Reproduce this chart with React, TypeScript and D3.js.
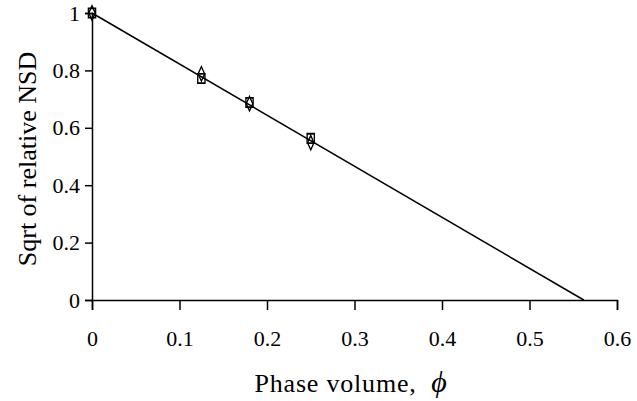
import React, { useEffect, useRef } from "react";
import * as d3 from "d3";

// phase volume vs sqrt of relative NSD
const squareX = [0, 0.125, 0.18, 0.25];
const squareY = [1.0, 0.772, 0.688, 0.563];
const diamondX = [0, 0.125, 0.18, 0.25];
const diamondY = [1.0, 0.788, 0.684, 0.548];
const fitX = [0, 0.562];
const fitY = [1, 0];
const xTicks = [0, 0.1, 0.2, 0.3, 0.4, 0.5, 0.6];
const yTicks = [0, 0.2, 0.4, 0.6, 0.8, 1];

const W = 637;
const H = 401;
const FONT = "'Liberation Serif', serif";

export default function App() {
  const ref = useRef<SVGSVGElement>(null);

  useEffect(() => {
    const svg = d3.select(ref.current);
    svg.selectAll("*").remove();

    const x = d3.scaleLinear().domain([0, 0.6]).range([92, 617]);
    const y = d3.scaleLinear().domain([0, 1]).range([300, 13]);

    const g = svg.append("g");

    // x axis
    const xAxis = d3.axisBottom(x).tickValues(xTicks).tickSize(10).tickFormat(d3.format("")).tickPadding(20);
    const xg = g.append("g").attr("transform", `translate(0,${y(0)})`).call(xAxis);
    xg.select(".domain").attr("stroke", "#000").attr("stroke-width", 1.5);
    xg.selectAll(".tick line").attr("stroke", "#000").attr("stroke-width", 1.5);
    xg.selectAll("text").attr("font-family", FONT).attr("font-size", 22).attr("fill", "#000");

    // y axis
    const yAxis = d3.axisLeft(y).tickValues(yTicks).tickSize(7).tickFormat(d3.format("")).tickPadding(5);
    const yg = g.append("g").attr("transform", `translate(${x(0)},0)`).call(yAxis);
    yg.select(".domain").attr("stroke", "#000").attr("stroke-width", 1.5);
    yg.selectAll(".tick line").attr("stroke", "#000").attr("stroke-width", 1.5);
    yg.selectAll("text").attr("font-family", FONT).attr("font-size", 22).attr("fill", "#000");

    // fit line
    const line = d3.line<number>().x((_, i) => x(fitX[i])).y((d) => y(d));
    g.append("path").attr("d", line(fitY)).attr("fill", "none").attr("stroke", "#000").attr("stroke-width", 1.5);

    // markers
    const diamond = d3.symbol().type(d3.symbolDiamond).size(50);
    g.selectAll(".dia")
      .data(diamondY)
      .enter()
      .append("path")
      .attr("d", diamond)
      .attr("transform", (d, i) => `translate(${x(diamondX[i])},${y(d)}) scale(0.85,1.1)`)
      .attr("fill", "none")
      .attr("stroke", "#000")
      .attr("stroke-width", 1.5);

    const square = d3.symbol().type(d3.symbolSquare).size(72);
    g.selectAll(".sq")
      .data(squareY)
      .enter()
      .append("path")
      .attr("d", square)
      .attr("transform", (d, i) => `translate(${x(squareX[i])},${y(d)}) scale(0.85,1.1)`)
      .attr("fill", "none")
      .attr("stroke", "#000")
      .attr("stroke-width", 1.6);

    // titles
    svg.append("text")
      .attr("transform", `translate(36,159) rotate(-90)`)
      .attr("text-anchor", "middle")
      .attr("font-family", FONT)
      .attr("font-size", 26)
      .text("Sqrt of relative NSD");

    const xt = svg.append("text")
      .attr("x", 351)
      .attr("y", 392)
      .attr("text-anchor", "middle")
      .attr("font-family", FONT)
      .attr("font-size", 26)
      .attr("letter-spacing", 0.8)
      .style("white-space", "pre");
    xt.append("tspan").text("Phase volume,\u00a0\u00a0");
    xt.append("tspan").attr("font-style", "italic").attr("font-size", 30).text("\u03d5");
  }, []);

  return (
    <svg ref={ref} width={W} height={H} style={{ position: "absolute", left: 0, top: 0, background: "#fff" }} />
  );
}
